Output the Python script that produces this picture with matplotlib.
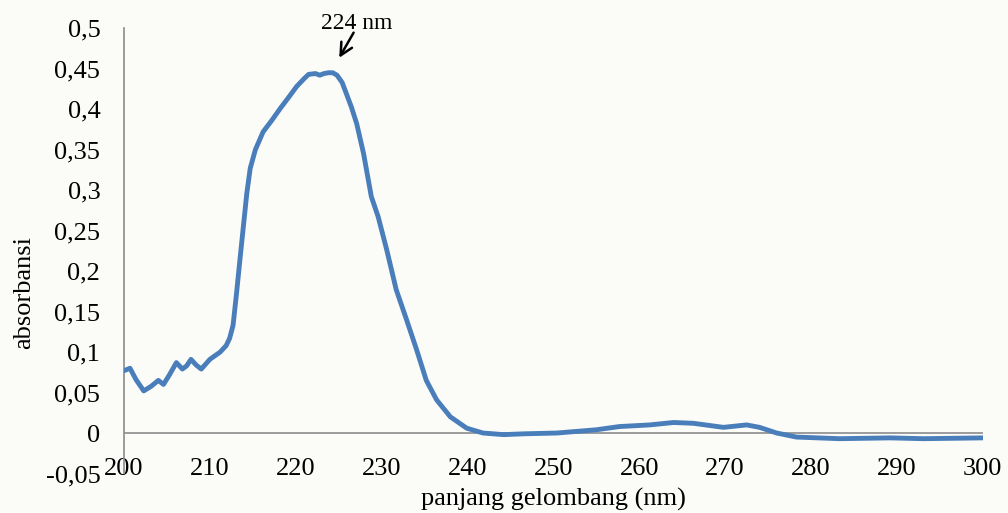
import matplotlib.pyplot as plt

# -------- DATA --------
wavelength = [200.0, 200.7, 201.4, 202.3, 203.2, 204.0, 204.6, 205.3, 206.1, 206.8,
              207.3, 207.8, 208.4, 209.0, 210.0, 211.2, 211.9, 212.3, 212.7, 213.1,
              213.5, 213.9, 214.3, 214.7, 215.3, 216.2, 217.2, 218.2, 219.2, 220.1,
              221.0, 221.5, 222.3, 222.8, 223.3, 223.8, 224.3, 224.8, 225.4, 225.9,
              226.5, 227.1, 227.9, 228.8, 229.6, 230.6, 231.7, 232.9, 234.1, 235.2,
              236.4, 238.0, 239.9, 241.8, 244.2, 246.5, 250.4, 255.0, 257.7, 261.2,
              264.0, 266.3, 269.8, 272.5, 274.0, 276.0, 278.3, 283.3, 289.2, 293.1,
              300.0]
absorbance = [0.077, 0.080, 0.066, 0.052, 0.058, 0.065, 0.060, 0.072, 0.087, 0.079,
              0.083, 0.091, 0.084, 0.079, 0.091, 0.100, 0.108, 0.117, 0.133, 0.172,
              0.214, 0.255, 0.296, 0.327, 0.350, 0.372, 0.386, 0.401, 0.415, 0.428,
              0.438, 0.443, 0.444, 0.442, 0.444, 0.445, 0.445, 0.442, 0.433, 0.419,
              0.402, 0.382, 0.345, 0.292, 0.267, 0.226, 0.177, 0.140, 0.102, 0.065,
              0.041, 0.020, 0.006, 0.000, -0.002, -0.001, 0.000, 0.004, 0.008, 0.010,
              0.013, 0.012, 0.007, 0.010, 0.007, 0.000, -0.005, -0.007, -0.006, -0.007,
              -0.006]

x_ticks = [200, 210, 220, 230, 240, 250, 260, 270, 280, 290, 300]
y_ticks = [-0.05, 0, 0.05, 0.1, 0.15, 0.2, 0.25, 0.3, 0.35, 0.4, 0.45, 0.5]
y_labels = ['-0,05', '0', '0,05', '0,1', '0,15', '0,2', '0,25', '0,3', '0,35', '0,4', '0,45', '0,5']

peak_label = '224 nm'

# -------- PLOT --------
plt.rcParams['font.family'] = ['Liberation Serif', 'DejaVu Serif']
bg = '#fbfcf8'
grey = '#8c8c8c'

fig = plt.figure(figsize=(10.08, 5.13), dpi=100, facecolor=bg)
ax = fig.add_axes([0.123, 0.077, 0.852, 0.868], facecolor=bg)

ax.plot(wavelength, absorbance, color='#4a7ebb', linewidth=3.5,
        solid_joinstyle='round', solid_capstyle='round', zorder=3)

# zero line acts as the horizontal axis
ax.axhline(0, color=grey, linewidth=1.2, zorder=2)

ax.set_xlim(200, 300)
ax.set_ylim(-0.05, 0.5)
ax.set_xticks(x_ticks)
ax.set_yticks(y_ticks)
ax.set_yticklabels(y_labels)

for side in ['top', 'right', 'bottom']:
    ax.spines[side].set_visible(False)
ax.spines['left'].set_color(grey)
ax.spines['left'].set_linewidth(1.2)

ax.tick_params(axis='both', length=0, labelsize=19, colors='black')
ax.tick_params(axis='y', pad=17)
ax.tick_params(axis='x', pad=-11.5)

ax.set_xlabel('panjang gelombang (nm)', fontsize=19)
ax.xaxis.set_label_coords(0.5, -0.032)
ax.set_ylabel('absorbansi', fontsize=19)
ax.yaxis.set_label_coords(-0.104, 0.407)

# peak marker
ax.text(227.1, 0.506, peak_label, fontsize=17, ha='center', va='center', clip_on=False)
ax.annotate('', xy=(224.9, 0.4605), xytext=(226.9, 0.4975),
            arrowprops=dict(arrowstyle='->', color='black', lw=1.8,
                            mutation_scale=22),
            annotation_clip=False)

plt.savefig('out.png', dpi=100, facecolor=bg)
